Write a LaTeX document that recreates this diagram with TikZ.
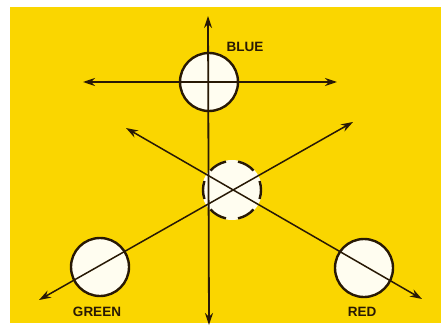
\documentclass[tikz,border=0pt]{standalone}
\usepackage{fontspec}
\setmainfont{Liberation Sans}
\usetikzlibrary{arrows.meta}
\definecolor{bgyellow}{RGB}{250,214,0}
\definecolor{ink}{RGB}{40,25,5}
\definecolor{lampfill}{RGB}{255,253,240}
\tikzset{
  lamp/.style={circle, draw=ink, line width=2.4pt, fill=lampfill, inner sep=0pt, minimum size=58pt},
  plainlamp/.style={circle, fill=lampfill, inner sep=0pt, minimum size=60pt},
  dashseg/.style={draw=ink, line width=2.4pt},
  axis/.style={draw=ink, line width=1.5pt, {Stealth[length=12pt,width=8pt]}-{Stealth[length=12pt,width=8pt]}},
  lbl/.style={font=\bfseries\fontsize{13.5}{13.5}\selectfont, text=ink, inner sep=0pt}
}
\begin{document}
\begin{tikzpicture}[x=1pt,y=-1pt]
\useasboundingbox (0,0) rectangle (441,331);
\fill[white] (0,0) rectangle (441,331);
\fill[bgyellow] (10,7) rectangle (441,323);
% circles
\node[lamp] (blue) at (209,82) {};
\node[plainlamp] (mid) at (232,190) {};
\foreach \a in {0,60,...,300}
  \draw[dashseg] ([shift={(\a-18:29pt)}]mid.center) arc[start angle=\a-18, delta angle=36, radius=29pt];
\node[lamp] (green) at (100,267) {};
\node[lamp] (red) at (364,268) {};
% arrow end points
\coordinate (vtop) at (208,16);
\coordinate (vbot) at (209,325);
\coordinate (hl) at (83,82);
\coordinate (hr) at (337,82);
\coordinate (gl) at (39,300);
\coordinate (gr) at (353,122);
\coordinate (rl) at (126,128);
\coordinate (rr) at (422,299);
% axes
\draw[axis, line width=1.8pt] (vtop) -- (vbot);
\draw[axis] (hl) -- (hr);
\draw[axis] (gl) -- (gr);
\draw[axis] (rl) -- (rr);
% labels
\node[lbl] (tblue) at (245,47) {BLUE};
\node[lbl] (tgreen) at (97,312) {GREEN};
\node[lbl] (tred) at (362,312) {RED};
\end{tikzpicture}
\end{document}
